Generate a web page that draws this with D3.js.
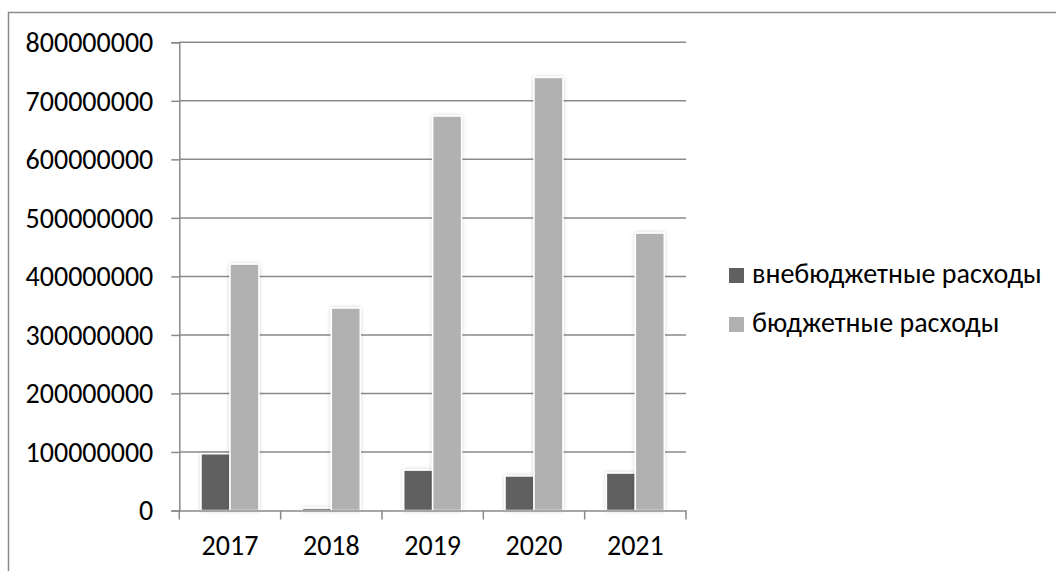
<!DOCTYPE html>
<html>
<head>
<meta charset="utf-8">
<script src="https://cdn.jsdelivr.net/npm/d3@7"></script>
<style>
  html, body { margin: 0; padding: 0; background: #fff; }
  svg { display: block; }
  text { font-family: Carlito, Calibri, "Liberation Sans", sans-serif; fill: #000; }
</style>
</head>
<body>
<svg id="chart" width="1056" height="571"></svg>
<script>
// Expenditure by year, roubles
const years = ["2017", "2018", "2019", "2020", "2021"];
const seriesNames = ["внебюджетные расходы", "бюджетные расходы"];
const offBudget = [97000000, 4000000, 69000000, 59000000, 64000000];
const budget = [421000000, 346000000, 674000000, 740000000, 474000000];
const yTicks = [0, 100000000, 200000000, 300000000, 400000000, 500000000, 600000000, 700000000, 800000000];
const seriesColors = ["#606060", "#b1b1b1"];

const series = [offBudget, budget];
const fontSize = 28;

const svg = d3.select("#chart");
const defs = svg.append("defs");
const shadow = defs.append("filter").attr("id", "barShadow")
  .attr("x", "-40%").attr("y", "-10%").attr("width", "180%").attr("height", "120%");
shadow.append("feGaussianBlur").attr("in", "SourceAlpha").attr("stdDeviation", 2).attr("result", "blur");
shadow.append("feComponentTransfer").attr("in", "blur").attr("result", "soft")
  .append("feFuncA").attr("type", "linear").attr("slope", 0.18);
const merge = shadow.append("feMerge");
merge.append("feMergeNode").attr("in", "soft");
merge.append("feMergeNode").attr("in", "SourceGraphic");

// Outer chart frame
svg.append("rect")
  .attr("x", 8.5).attr("y", 12.5).attr("width", 1060).attr("height", 570)
  .attr("fill", "none").attr("stroke", "#8a8a8a").attr("stroke-width", 1.5);

const plot = { left: 179.3, right: 686, top: 42.3, bottom: 510.5 };

const x = d3.scaleBand().domain(years).range([plot.left, plot.right]).paddingInner(0).paddingOuter(0);
const y = d3.scaleLinear().domain([0, 800000000]).range([plot.bottom, plot.top]);

const barW = x.bandwidth() / 3.5;

// Horizontal gridlines
svg.append("g").selectAll("line").data(yTicks.filter(d => d > 0)).join("line")
  .attr("x1", plot.left).attr("x2", plot.right)
  .attr("y1", d => y(d)).attr("y2", d => y(d))
  .attr("stroke", "#8a8a8a").attr("stroke-width", 1.5);

// Y axis
const yAxis = svg.append("g")
  .attr("transform", `translate(${plot.left},0)`)
  .call(d3.axisLeft(y).tickValues(yTicks).tickFormat(d3.format("d")).tickSize(8).tickPadding(18));
yAxis.attr("font-family", null).attr("font-size", null);
yAxis.select(".domain").attr("stroke", "#8a8a8a").attr("stroke-width", 1.5);
yAxis.selectAll(".tick line").attr("stroke", "#8a8a8a").attr("stroke-width", 1.5);
yAxis.selectAll(".tick text").attr("font-size", fontSize).attr("dy", "0.33em");

// Bars
series.forEach((vals, si) => {
  svg.append("g").attr("filter", "url(#barShadow)")
    .selectAll("rect").data(vals).join("rect")
    .attr("x", (d, i) => x(years[i]) + barW * 0.75 + si * barW)
    .attr("y", d => y(d))
    .attr("width", barW)
    .attr("height", d => y(0) - y(d))
    .attr("fill", seriesColors[si])
    .attr("stroke", "#ffffff").attr("stroke-width", 1.5);
});

// X axis with category boundary ticks
const xAxis = svg.append("g")
  .attr("transform", `translate(0,${plot.bottom})`)
  .call(d3.axisBottom(x).tickSize(0));
xAxis.attr("font-family", null).attr("font-size", null);
xAxis.select(".domain").attr("stroke", "#8a8a8a").attr("stroke-width", 1.5);
xAxis.selectAll(".tick text").attr("font-size", fontSize).attr("y", 44.5).attr("dy", 0);
const bounds = years.map(d => x(d)).concat([plot.right]);
xAxis.selectAll(".bound").data(bounds).join("line").attr("class", "bound")
  .attr("x1", d => d).attr("x2", d => d).attr("y1", 0).attr("y2", 9)
  .attr("stroke", "#8a8a8a").attr("stroke-width", 1.5);

// Legend
const legend = svg.append("g");
seriesNames.forEach((name, i) => {
  const cy = 275 + i * 49;
  legend.append("rect").attr("x", 729).attr("y", cy - 7).attr("width", 15).attr("height", 15)
    .attr("fill", seriesColors[i]);
  legend.append("text").attr("x", 752).attr("y", cy + 7.5)
    .attr("font-size", fontSize).text(name);
});
</script>
</body>
</html>
